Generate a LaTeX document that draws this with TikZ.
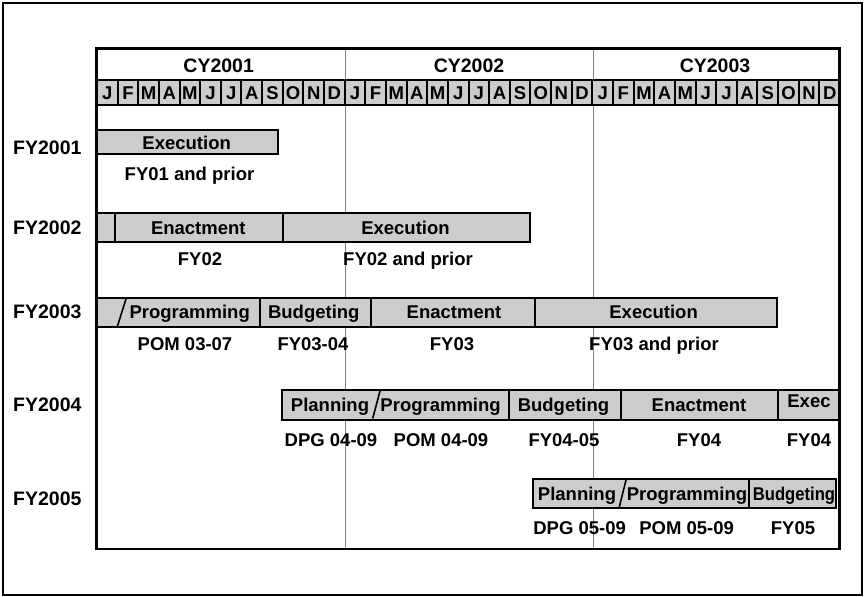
\documentclass[tikz,border=0pt]{standalone}
\usepackage{fontspec}
\setmainfont{Liberation Sans}
\definecolor{barfill}{HTML}{CCCCCC}
\definecolor{yearline}{HTML}{808080}
\newcommand{\chartfont}{\fontsize{18.5}{20}\selectfont\bfseries}
\newcommand{\headfont}{\fontsize{19.5}{21}\selectfont\bfseries}
\tikzset{
  frame/.style={draw=black,line width=2pt},
  chartbox/.style={draw=black,line width=2.8pt},
  yeardiv/.style={draw=yearline,line width=0.9pt},
  phase/.style={draw=black,fill=barfill,line width=2pt},
  split/.style={draw=black,line width=1.6pt},
  tag/.style={inner sep=0pt,text height=13.3pt,text depth=0pt,font=\chartfont},
  headtag/.style={tag,font=\headfont,text height=13.8pt},
  monthcell/.style={draw=black,fill=barfill,line width=2pt,inner sep=0pt,
                    minimum width=20.64pt,minimum height=25pt,
                    text height=13.3pt,text depth=0pt,font=\chartfont}
}

\begin{document}
\begin{tikzpicture}[x=1pt,y=-1pt]
    \path[use as bounding box] (0,0) rectangle (865,597);
    \draw[frame] (2.5,3) rectangle (861.5,594.5);

    % calendar years
    \draw[yeardiv] (345.5,48) -- (345.5,549);
    \draw[yeardiv] (593.5,48) -- (593.5,549);
    \node[headtag] (cy01) at (218.7,65.5) {CY2001};
    \node[headtag] (cy02) at (469,65.5) {CY2002};
    \node[headtag] (cy03) at (715,65.5) {CY2003};
    \foreach \m [count=\i from 0] in {J,F,M,A,M,J,J,A,S,O,N,D,J,F,M,A,M,J,J,A,S,O,N,D,J,F,M,A,M,J,J,A,S,O,N,D}
      \node[monthcell] (m\i) at ({97+(\i+0.5)*20.64},92.5) {\m};

    % fiscal year rows
    \node[headtag] (fy2001) at (47.3,148) {FY2001};
    \node[headtag] (fy2002) at (47.3,227.5) {FY2002};
    \node[headtag] (fy2003) at (47.3,312) {FY2003};
    \node[headtag] (fy2004) at (47.3,404.5) {FY2004};
    \node[headtag] (fy2005) at (47.3,499) {FY2005};

    % FY2001
    \draw[phase] (97,130) rectangle (278,154);
    \node[tag] (exec01) at (186.7,142.5) {Execution};
    \node[tag] (exec01fy) at (189.5,174) {FY01 and prior};

    % FY2002
    \draw[phase] (97,212.5) rectangle (115,241.5);
    \draw[phase] (115,212.5) rectangle (282.5,241.5);
    \draw[phase] (282.5,212.5) rectangle (529.5,241.5);
    \node[tag] (enact02) at (198.3,227.5) {Enactment};
    \node[tag] (exec02) at (405.5,227.5) {Execution};
    \node[tag] (enact02fy) at (200,258.5) {FY02};
    \node[tag] (exec02fy) at (408,259) {FY02 and prior};

    % FY2003
    \draw[phase] (97,298) rectangle (260,327);
    \draw[phase] (260,298) rectangle (370.5,327);
    \draw[phase] (370.5,298) rectangle (534.5,327);
    \draw[phase] (534.5,298) rectangle (776.5,327);
    \draw[split] (117.5,326) -- (126,299);
    \node[tag] (prog03) at (189.7,312) {Programming};
    \node[tag] (budg03) at (313.8,312) {Budgeting};
    \node[tag] (enact03) at (454,312) {Enactment};
    \node[tag] (exec03) at (653.6,312) {Execution};
    \node[tag] (prog03fy) at (185,344) {POM 03-07};
    \node[tag] (budg03fy) at (313,344) {FY03-04};
    \node[tag] (enact03fy) at (452,344) {FY03};
    \node[tag] (exec03fy) at (654,344) {FY03 and prior};

    % FY2004
    \draw[phase] (282.3,390) rectangle (509,419.5);
    \draw[phase] (509,390) rectangle (620.5,419.5);
    \draw[phase] (620.5,390) rectangle (778,419.5);
    \draw[phase] (778,390) rectangle (839.3,419.5);
    \draw[split] (372.7,418.5) -- (380,391);
    \node[tag] (plan04) at (330,405) {Planning};
    \node[tag] (prog04) at (440.6,405) {Programming};
    \node[tag] (budg04) at (563.5,405) {Budgeting};
    \node[tag] (enact04) at (699,405) {Enactment};
    \node[tag] (exec04) at (809,400.5) {Exec};
    \node[tag] (plan04fy) at (331,440) {DPG 04-09};
    \node[tag] (prog04fy) at (441,440) {POM 04-09};
    \node[tag] (budg04fy) at (564,440) {FY04-05};
    \node[tag] (enact04fy) at (699,440) {FY04};
    \node[tag] (exec04fy) at (809,440) {FY04};

    % FY2005
    \draw[phase] (533.3,479) rectangle (749.3,508);
    \draw[phase] (749.3,479) rectangle (835.5,508);
    \draw[split] (619.3,507) -- (626,480);
    \node[tag] (plan05) at (577,493.5) {Planning};
    \node[tag] (prog05) at (687,493.5) {Programming};
    \node[tag] (budg05) at (794,493.5) {\scalebox{0.9}[1]{Budgeting}};
    \node[tag] (plan05fy) at (579.6,528) {DPG 05-09};
    \node[tag] (prog05fy) at (686.7,528) {POM 05-09};
    \node[tag] (budg05fy) at (793,528) {FY05};

    \draw[chartbox] (96.5,48.5) rectangle (839.5,549);
\end{tikzpicture}
\end{document}
